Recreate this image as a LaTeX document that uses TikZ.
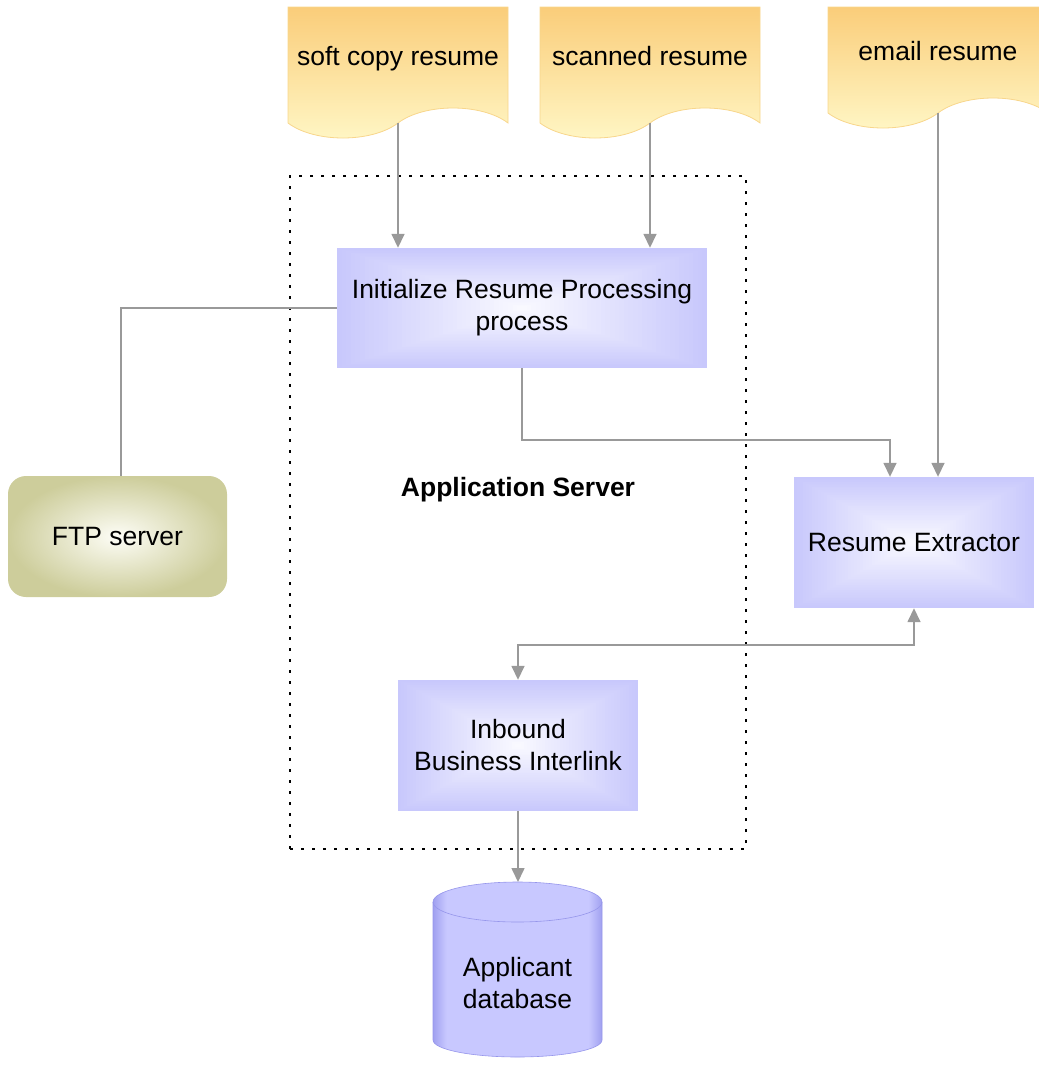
\documentclass[tikz,border=0pt]{standalone}
\usepackage{fontspec}
\setmainfont{Liberation Sans}
\usetikzlibrary{arrows.meta, calc}

\definecolor{procedge}{RGB}{200,200,252}
\definecolor{procmid}{RGB}{250,250,255}
\definecolor{doctop}{RGB}{250,205,122}
\definecolor{docbot}{RGB}{255,247,198}
\definecolor{docrim}{RGB}{248,214,140}
\definecolor{ftpedge}{RGB}{205,205,155}
\definecolor{ftpmid}{RGB}{253,253,246}
\definecolor{dbedge}{RGB}{160,160,240}
\definecolor{dbmid}{RGB}{200,200,255}
\definecolor{dbrim}{RGB}{150,150,235}
\definecolor{wire}{RGB}{153,153,153}

\pgfdeclarehorizontalshading{dbstripes}{100bp}{color(0bp)=(dbedge); color(25bp)=(dbedge);
  color(29bp)=(dbmid); color(71bp)=(dbmid); color(75bp)=(dbedge); color(100bp)=(dbedge)}

% wavy sheet: name, left, top, right, bottom
\newcommand{\docsheet}[5]{%
  \shade[sheet] (#2,#3) -- (#4,#3) -- (#4,#5)
    .. controls ({#4-0.12*(#4-#2)},{#5+20}) and ({#4-0.38*(#4-#2)},{#5+20}) .. ({(#2+#4)/2},#5)
    .. controls ({#2+0.38*(#4-#2)},{#5-20}) and ({#2+0.12*(#4-#2)},{#5-20}) .. (#2,#5) -- cycle;
  \coordinate (#1) at ({(#2+#4)/2},#5);}

\tikzset{
  every node/.style={font=\fontsize{26.5}{32}\selectfont},
  sheet/.style={draw=docrim, line width=0.8pt, top color=doctop, bottom color=docbot},
  sheettext/.style={text height=19pt, text depth=5.5pt},
  proc/.style={rectangle, align=center, path picture={
    \foreach \t in {0,0.025,...,0.975}{
      \pgfmathsetmacro\pct{100*\t}
      \fill[procmid!\pct!procedge]
        ($(path picture bounding box.north west)!\t!(path picture bounding box.center)$) rectangle
        ($(path picture bounding box.south east)!\t!(path picture bounding box.center)$);}}},
  ftp/.style={rectangle, rounded corners=18pt, inner color=ftpmid, outer color=ftpedge,
    align=center, minimum width=219pt, minimum height=121pt},
  dbbody/.style={shading=dbstripes, draw=dbrim, line width=0.6pt},
  frame/.style={draw, dash pattern=on 3pt off 8pt, line width=2pt, inner sep=0pt},
  wire/.style={draw=wire, line width=1.6pt},
  feed/.style={wire, -{Triangle[length=14pt,width=13pt]}},
  link/.style={wire, {Triangle[length=14pt,width=13pt]}-{Triangle[length=14pt,width=13pt]}}
}

\begin{document}
\begin{tikzpicture}[x=1pt, y=1pt]
\clip (0,0) rectangle (1039,-1066);

% input documents
\docsheet{soft}{288}{-7}{508}{-123}
\docsheet{scan}{540}{-7}{760}{-123}
\docsheet{mail}{828}{-7}{1048}{-113}
\node[sheettext] (softtxt) at (398,-59) {soft copy resume};
\node[sheettext] (scantxt) at (650,-59) {scanned resume};
\node[sheettext] (mailtxt) at (938,-54) {email resume};

% application server
\node[frame, minimum width=456pt, minimum height=673pt] (appsrv) at (518,-512.5) {};
\node[font=\fontsize{26.5}{32}\selectfont\bfseries] (srvname) at (518,-490) {Application Server};

\node[proc, minimum width=370pt, minimum height=120pt] (init) at (522,-308) {Initialize Resume Processing\\process};
\node[proc, minimum width=240pt, minimum height=131pt] (inb) at (518,-745.5) {Inbound\\Business Interlink};
\node[proc, minimum width=240pt, minimum height=131pt] (extr) at (914,-542.5) {Resume Extractor};
\node[ftp] (ftp) at (117.5,-536.5) {FTP server};

% database
\shade[dbbody] (433,-902) -- (433,-1040) arc[start angle=180, end angle=360, x radius=84.5, y radius=17]
  -- (602,-902) arc[start angle=0, end angle=180, x radius=84.5, y radius=20] -- cycle;
\draw[dbrim, line width=0.6pt] (433,-902) arc[start angle=180, end angle=360, x radius=84.5, y radius=20];
\coordinate (dbtop) at (517.5,-882);
\node[align=center] (db) at (517.5,-983) {Applicant\\database};

% connectors
\draw[feed] (soft) -- (soft |- init.north);
\draw[feed] (scan) -- (scan |- init.north);
\draw[feed] (mail) -- (mail |- extr.north);
\draw[feed] (init.south) -- ++(0,-72) -| ([xshift=-24pt]extr.north);
\draw[wire] (init.west) -| ([xshift=3.5pt]ftp.north);
\draw[link] (inb.north) -- ++(0,35) -| (extr.south);
\draw[feed] (inb.south) -- (inb.south |- dbtop);
\end{tikzpicture}
\end{document}
